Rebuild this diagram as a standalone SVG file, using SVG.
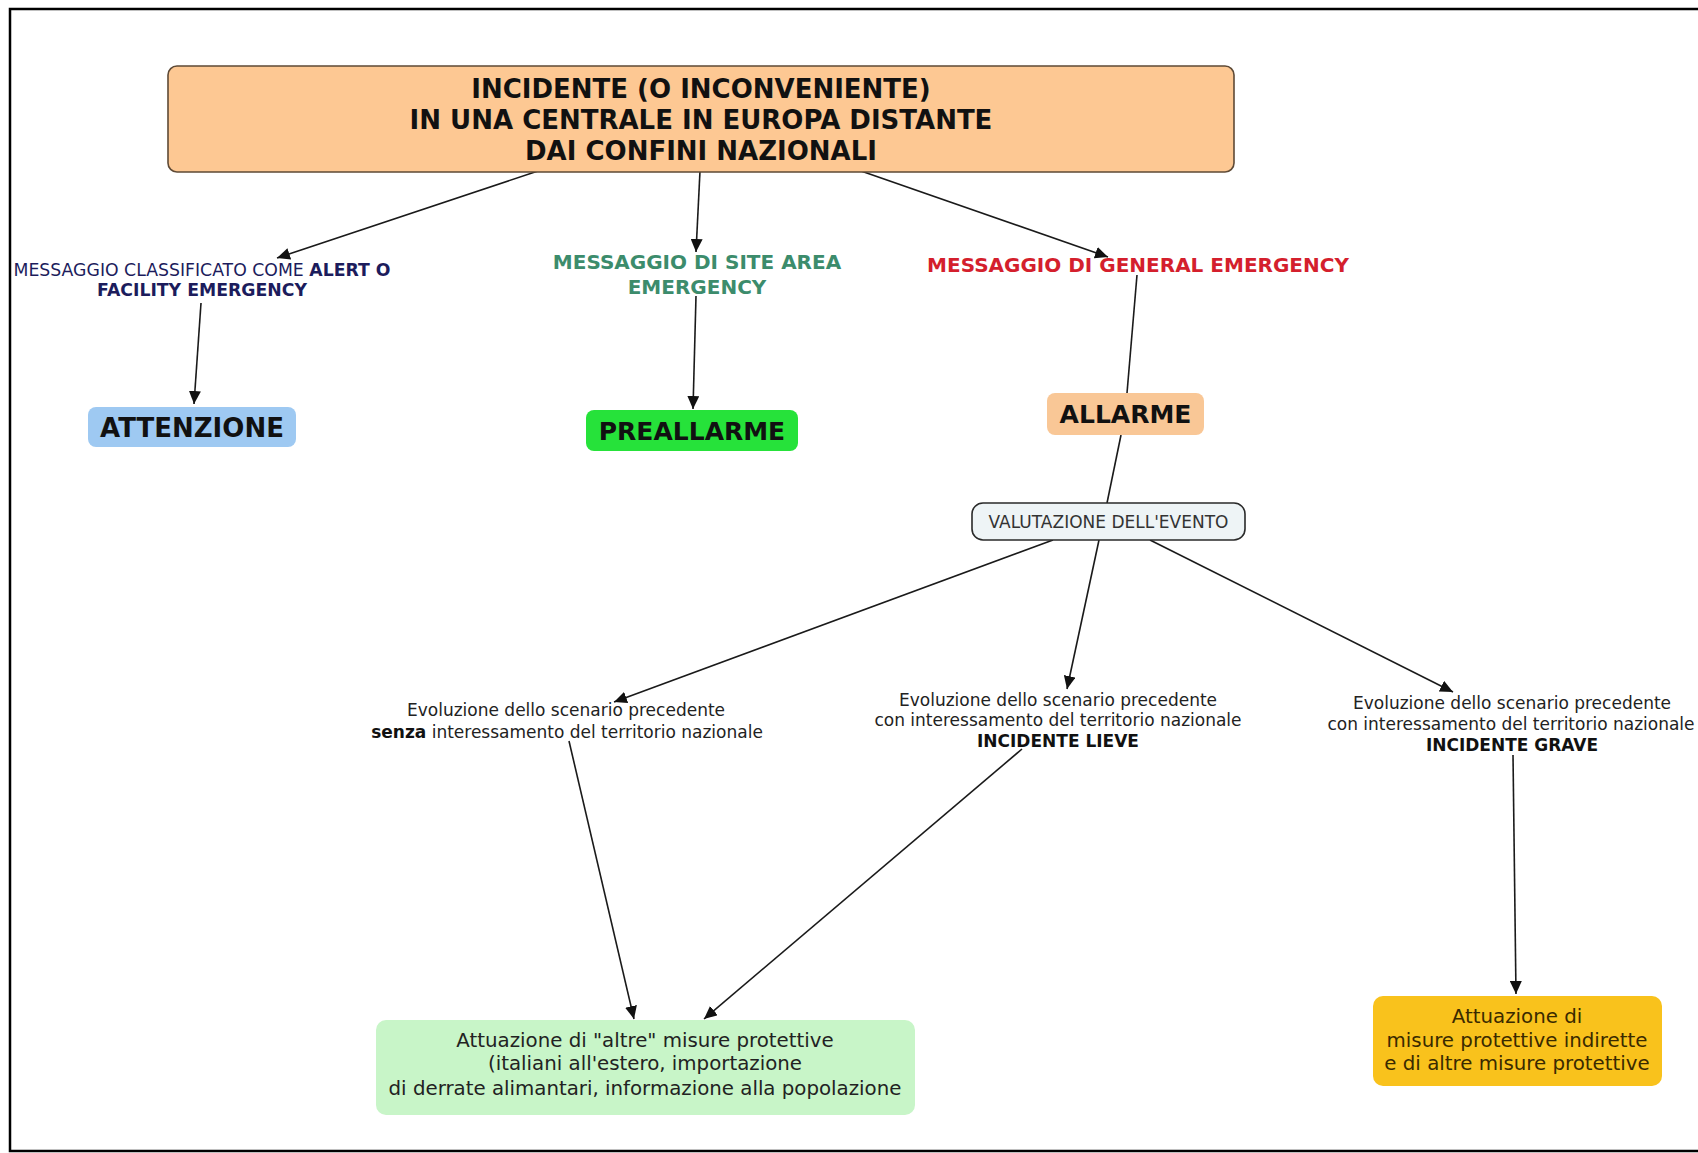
<svg xmlns="http://www.w3.org/2000/svg" width="1698" height="1153" viewBox="0 0 1698 1153">
<style>
text{font-family:"DejaVu Sans","Liberation Sans",sans-serif;text-anchor:middle;fill:#111}
.b{font-weight:bold}
.big{font-size:25px;font-weight:bold}
.title{font-size:26px;font-weight:bold}
.evo{font-size:17px;fill:#222}
.box{font-size:19.8px;fill:#222}
.conn line{stroke:#1a1a1a;stroke-width:1.6;fill:none}
.arr{marker-end:url(#ah)}
</style>
<defs>
<marker id="ah" markerUnits="userSpaceOnUse" markerWidth="14" markerHeight="12" refX="13" refY="6" orient="auto">
<path d="M0,0 L13,6 L0,12 Z" fill="#111"/>
</marker>
</defs>
<rect width="1698" height="1153" fill="#fff"/>
<path d="M1698,9 H10 V1151 H1698" fill="none" stroke="#000" stroke-width="2.5"/>

<g id="connectors" class="conn">
<line class="arr" x1="538" y1="171" x2="277" y2="258"/>
<line class="arr" x1="700" y1="171" x2="696" y2="252"/>
<line class="arr" x1="861" y1="171" x2="1108" y2="257"/>
<line class="arr" x1="201" y1="303" x2="194" y2="404"/>
<line class="arr" x1="696" y1="296" x2="693" y2="409"/>
<line x1="1137" y1="275" x2="1127" y2="393"/>
<line x1="1121" y1="435" x2="1107" y2="503"/>
<line class="arr" x1="1053" y1="540" x2="614" y2="702"/>
<line class="arr" x1="1099" y1="540" x2="1067" y2="689"/>
<line class="arr" x1="1150" y1="540" x2="1453" y2="692"/>
<line class="arr" x1="569" y1="741" x2="634" y2="1019"/>
<line class="arr" x1="1022" y1="749" x2="704" y2="1019"/>
<line class="arr" x1="1513" y1="755" x2="1516" y2="994"/>
</g>

<g id="main">
<rect x="168" y="66" width="1066" height="106" rx="9" fill="#fdc893" stroke="#5e4a36" stroke-width="1.6"/>
<text class="title" x="701" y="97.5">INCIDENTE (O INCONVENIENTE)</text>
<text class="title" x="701" y="128.5">IN UNA CENTRALE IN EUROPA DISTANTE</text>
<text class="title" x="701" y="159.5">DAI CONFINI NAZIONALI</text>
</g>

<g id="msg-alert">
<text x="202" y="276" style="font-size:17.3px;fill:#1c1c5c">MESSAGGIO CLASSIFICATO COME <tspan class="b" style="fill:#1c1c5c">ALERT O</tspan></text>
<text class="b" x="202" y="296" style="font-size:17.3px;fill:#1c1c5c">FACILITY EMERGENCY</text>
</g>

<g id="msg-site">
<text class="b" x="697" y="269" style="font-size:20px;fill:#3c8c6c">MESSAGGIO DI SITE AREA</text>
<text class="b" x="697" y="294" style="font-size:20px;fill:#3c8c6c">EMERGENCY</text>
</g>

<g id="msg-general">
<text class="b" x="1138" y="272" style="font-size:20px;fill:#d41f2d">MESSAGGIO DI GENERAL EMERGENCY</text>
</g>

<g id="attenzione">
<rect x="88" y="407" width="208" height="40" rx="8" fill="#9ec9f2"/>
<text class="title" x="192" y="436.5">ATTENZIONE</text>
</g>

<g id="preallarme">
<rect x="586" y="410" width="212" height="41" rx="8" fill="#26e23a"/>
<text class="big" x="692" y="440">PREALLARME</text>
</g>

<g id="allarme">
<rect x="1047" y="393" width="157" height="42" rx="8" fill="#f9c796"/>
<text class="big" x="1125.5" y="423">ALLARME</text>
</g>

<g id="valutazione">
<rect x="972" y="503" width="273" height="37" rx="11" fill="#eef4f6" stroke="#2a2a2a" stroke-width="1.6"/>
<text x="1108.5" y="527.5" style="font-size:17px;fill:#333">VALUTAZIONE DELL'EVENTO</text>
</g>

<g id="evo-senza">
<text class="evo" x="566" y="716">Evoluzione dello scenario precedente</text>
<text class="evo" x="567" y="738"><tspan class="b" style="fill:#111">senza</tspan> interessamento del territorio nazionale</text>
</g>

<g id="evo-lieve">
<text class="evo" x="1058" y="706">Evoluzione dello scenario precedente</text>
<text class="evo" x="1058" y="726">con interessamento del territorio nazionale</text>
<text class="evo b" x="1058" y="747" style="fill:#111">INCIDENTE LIEVE</text>
</g>

<g id="evo-grave">
<text class="evo" x="1512" y="709">Evoluzione dello scenario precedente</text>
<text class="evo" x="1511" y="730">con interessamento del territorio nazionale</text>
<text class="evo b" x="1512" y="751" style="fill:#111">INCIDENTE GRAVE</text>
</g>

<g id="altre-misure">
<rect x="376" y="1020" width="539" height="95" rx="10" fill="#c8f5c8"/>
<text class="box" x="645" y="1047">Attuazione di "altre" misure protettive</text>
<text class="box" x="645" y="1070">(italiani all'estero, importazione</text>
<text class="box" x="645" y="1095">di derrate alimantari, informazione alla popolazione</text>
</g>

<g id="misure-indirette">
<rect x="1373" y="996" width="289" height="90" rx="10" fill="#f9c21c"/>
<text class="box" x="1517" y="1023" style="fill:#3a2a00">Attuazione di</text>
<text class="box" x="1517" y="1047" style="fill:#3a2a00">misure protettive indirette</text>
<text class="box" x="1517" y="1070" style="fill:#3a2a00">e di altre misure protettive</text>
</g>
</svg>
